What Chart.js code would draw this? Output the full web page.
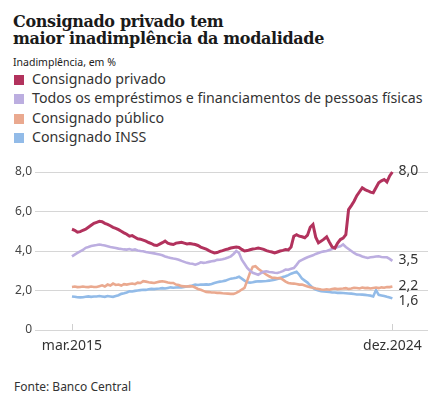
<!DOCTYPE html>
<html>
<head>
<meta charset="utf-8">
<script src="https://cdn.jsdelivr.net/npm/chart.js@4"></script>
<style>
  body { margin: 0; background: #fff; width: 436px; height: 396px; position: relative; overflow: hidden; font-family: "Noto Sans", sans-serif; color: #333; }
  .title { position: absolute; left: 13px; top: 14px; font: bold 16px "DejaVu Serif", serif; line-height: 16.7px; letter-spacing: -0.35px; color: #1a1a1a; }
  .sub { position: absolute; left: 13px; top: 55px; font-size: 10.5px; color: #222; }
  .leg { position: absolute; left: 14px; font-size: 14.2px; line-height: 18px; white-space: nowrap; }
  .leg i { display: inline-block; width: 10px; height: 10px; margin-right: 8px; vertical-align: -1px; }
  .foot { position: absolute; left: 14px; top: 378px; font-size: 12px; }
  #wrap { position: absolute; left: 0; top: 150px; width: 436px; height: 210px; }
</style>
</head>
<body>
<div class="title">Consignado privado tem<br>maior inadimplência da modalidade</div>
<div class="sub">Inadimplência, em %</div>
<div id="legend"></div>
<div id="wrap"><canvas id="chart" width="436" height="210"></canvas></div>
<div class="foot">Fonte: Banco Central</div>
<script>
// monthly, mar.2015 .. dez.2024
const xTickLabels = ["mar.2015", "dez.2024"];
const seriesNames = ["Consignado privado", "Todos os empréstimos e financiamentos de pessoas físicas", "Consignado público", "Consignado INSS"];
const seriesColors = ["#b2325d", "#bcaee0", "#eaa98f", "#92bbe8"];

const privado = [5.1, 5.05, 4.95, 4.98, 5.05, 5.1, 5.2, 5.3, 5.4, 5.45,
  5.5, 5.48, 5.4, 5.35, 5.28, 5.2, 5.15, 5.08, 5.0, 4.92,
  4.85, 4.75, 4.78, 4.7, 4.62, 4.6, 4.55, 4.5, 4.43, 4.38,
  4.3, 4.28, 4.35, 4.42, 4.5, 4.4, 4.35, 4.33, 4.4, 4.42,
  4.44, 4.4, 4.36, 4.38, 4.35, 4.33, 4.28, 4.2, 4.15, 4.1,
  4.02, 3.95, 3.9, 3.92, 3.98, 4.02, 4.07, 4.1, 4.15, 4.18,
  4.2, 4.18, 4.08, 4.0, 4.02, 4.06, 4.1, 4.12, 4.15, 4.12,
  4.08, 4.02, 3.98, 3.95, 3.9, 3.95, 4.0, 4.03, 4.07, 4.05,
  4.2, 4.75, 4.83, 4.75, 4.72, 4.67, 4.8, 5.2, 5.34, 4.7,
  4.41, 4.5, 4.6, 4.72, 4.45, 4.2, 4.15, 4.4, 4.58, 4.65,
  4.83, 6.1, 6.3, 6.52, 6.8, 7.0, 7.2, 7.11, 7.05, 6.98,
  6.95, 7.2, 7.45, 7.55, 7.62, 7.49, 7.8, 8.0];

const todos = [3.73, 3.82, 3.9, 3.98, 4.05, 4.16, 4.2, 4.25, 4.28, 4.3,
  4.33, 4.3, 4.28, 4.24, 4.2, 4.18, 4.15, 4.12, 4.1, 4.08,
  4.07, 4.1, 4.05, 4.08, 4.03, 4.0, 3.99, 3.95, 3.92, 3.9,
  3.88, 3.85, 3.82, 3.78, 3.72, 3.68, 3.65, 3.62, 3.6, 3.56,
  3.5, 3.45, 3.4, 3.37, 3.35, 3.31, 3.35, 3.43, 3.4, 3.42,
  3.45, 3.48, 3.5, 3.55, 3.56, 3.58, 3.62, 3.67, 3.73, 3.85,
  4.0, 3.9, 3.56, 3.35, 3.14, 3.0, 2.9, 2.85, 2.8, 2.88,
  2.95, 2.97, 2.94, 2.92, 2.9, 2.89, 2.93, 2.98, 3.06, 3.05,
  3.1, 3.14, 3.3, 3.48, 3.55, 3.62, 3.68, 3.73, 3.78, 3.85,
  3.9, 3.95, 3.98, 4.0, 4.05, 4.1, 4.15, 4.2, 4.24, 4.33,
  4.2, 4.1, 4.0, 3.9, 3.82, 3.78, 3.72, 3.68, 3.65, 3.68,
  3.7, 3.72, 3.73, 3.7, 3.68, 3.68, 3.6, 3.5];

const publico = [2.18, 2.2, 2.17, 2.18, 2.2, 2.18, 2.17, 2.2, 2.18, 2.18,
  2.22, 2.26, 2.2, 2.3, 2.25, 2.35, 2.28, 2.3, 2.25, 2.32,
  2.3, 2.33, 2.35, 2.32, 2.4, 2.38, 2.47, 2.45, 2.42, 2.4,
  2.38, 2.42, 2.45, 2.47, 2.44, 2.4, 2.38, 2.38, 2.3, 2.28,
  2.22, 2.21, 2.2, 2.22, 2.21, 2.15, 2.08, 2.04, 1.98, 1.93,
  1.92, 1.9, 1.9, 1.88, 1.88, 1.86, 1.85, 1.84, 1.83, 1.83,
  1.88, 1.96, 2.05, 2.13, 2.5, 2.9, 3.2, 3.23, 3.1, 3.0,
  2.9, 2.8, 2.72, 2.65, 2.64, 2.62, 2.64, 2.55, 2.45, 2.38,
  2.36, 2.35, 2.33, 2.3, 2.3, 2.25, 2.2, 2.16, 2.14, 2.1,
  2.08, 2.05, 2.04, 2.06, 2.04, 2.08, 2.1, 2.07, 2.09, 2.1,
  2.12, 2.08, 2.1, 2.14, 2.13, 2.1, 2.15, 2.12, 2.13, 2.1,
  2.13, 2.15, 2.12, 2.16, 2.14, 2.18, 2.17, 2.2];

const inss = [1.7, 1.68, 1.66, 1.65, 1.66, 1.68, 1.7, 1.68, 1.7, 1.7,
  1.72, 1.7, 1.68, 1.72, 1.7, 1.68, 1.72, 1.76, 1.83, 1.86,
  1.9, 1.96, 1.95, 1.98, 2.0, 2.02, 2.04, 2.03, 2.06, 2.08,
  2.07, 2.09, 2.1, 2.12, 2.1, 2.13, 2.16, 2.14, 2.15, 2.16,
  2.16, 2.18, 2.2, 2.22, 2.25, 2.3, 2.28, 2.3, 2.3, 2.31,
  2.3, 2.33, 2.38, 2.42, 2.45, 2.47, 2.5, 2.55, 2.6, 2.62,
  2.65, 2.7, 2.6, 2.5, 2.42, 2.4, 2.42, 2.45, 2.47, 2.46,
  2.47, 2.48, 2.5, 2.52, 2.55, 2.58, 2.62, 2.68, 2.72, 2.78,
  2.85, 2.9, 2.95, 2.8, 2.6, 2.5, 2.4, 2.25, 2.13, 2.05,
  2.0, 1.96, 1.95, 1.94, 1.92, 1.9, 1.9, 1.88, 1.88, 1.87,
  1.86, 1.85, 1.84, 1.82, 1.8, 1.8, 1.79, 1.78, 1.76, 1.74,
  1.7, 2.02, 1.78, 1.75, 1.72, 1.68, 1.65, 1.6];

const seriesValues = [privado, todos, publico, inss];
const lastIdx = privado.length - 1;
const tickIdx = [0, lastIdx];

// legend
const legendEl = document.getElementById("legend");
seriesNames.forEach((name, k) => {
  const d = document.createElement("div");
  d.className = "leg";
  d.style.top = (70 + k * 19.3) + "px";
  d.innerHTML = '<i style="background:' + seriesColors[k] + '"></i>' + name;
  legendEl.appendChild(d);
});

const fmt = v => v.toFixed(1).replace(".", ",");

const extras = {
  id: "extras",
  afterDatasetsDraw(chart) {
    const { ctx, scales: { x, y } } = chart;
    ctx.save();
    ctx.strokeStyle = "#cfcfcf";
    ctx.lineWidth = 1;
    const base = y.getPixelForValue(0);
    tickIdx.forEach(i => {
      const px = Math.round(x.getPixelForValue(i)) + 0.5;
      ctx.beginPath();
      ctx.moveTo(px, base);
      ctx.lineTo(px, base - 6);
      ctx.stroke();
    });
    // end labels, pushed apart when they would overlap
    const labels = chart.data.datasets.map(ds => {
      const p = ds.data[ds.data.length - 1];
      return { text: fmt(p.y), px: x.getPixelForValue(p.x) + 6, py: y.getPixelForValue(p.y) - 1 };
    }).sort((a, b) => a.py - b.py);
    for (let i = 1; i < labels.length; i++) {
      if (labels[i].py - labels[i - 1].py < 15) labels[i].py = labels[i - 1].py + 15;
    }
    ctx.font = '14px "Noto Sans"';
    ctx.fillStyle = "#333";
    ctx.textBaseline = "middle";
    labels.forEach(l => ctx.fillText(l.text, l.px, l.py));
    ctx.restore();
  }
};

new Chart("chart", {
  type: "line",
  data: {
    datasets: seriesValues.map((vals, k) => ({
      label: seriesNames[k],
      data: vals.map((v, i) => ({ x: i, y: v })),
      borderColor: seriesColors[k],
      borderWidth: k === 0 ? 3 : 2.6,
      pointRadius: 0,
      tension: 0,
      clip: false
    }))
  },
  options: {
    responsive: false,
    animation: false,
    layout: { padding: { top: 22, right: 8, left: 0, bottom: 0 } },
    plugins: { legend: { display: false }, tooltip: { enabled: false } },
    scales: {
      x: {
        type: "linear",
        min: -13.5,
        max: 130,
        grid: { display: false },
        border: { display: false },
        afterBuildTicks: s => { s.ticks = tickIdx.map(v => ({ value: v })); },
        afterFit: s => { s.height = 30; },
        ticks: {
          autoSkip: false,
          maxRotation: 0,
          padding: 0,
          color: "#333",
          font: { family: "Noto Sans", size: 14 },
          callback: v => xTickLabels[tickIdx.indexOf(v)]
        }
      },
      y: {
        min: 0,
        max: 8,
        afterFit: s => { s.width = 35; },
        grid: { color: "#d6d6d6", drawTicks: false },
        border: { display: false },
        ticks: {
          stepSize: 2,
          padding: 3,
          color: "#444",
          font: { family: "Noto Sans", size: 12 },
          callback: v => v === 0 ? "0" : fmt(v)
        }
      }
    }
  },
  plugins: [extras]
});
</script>
</body>
</html>
